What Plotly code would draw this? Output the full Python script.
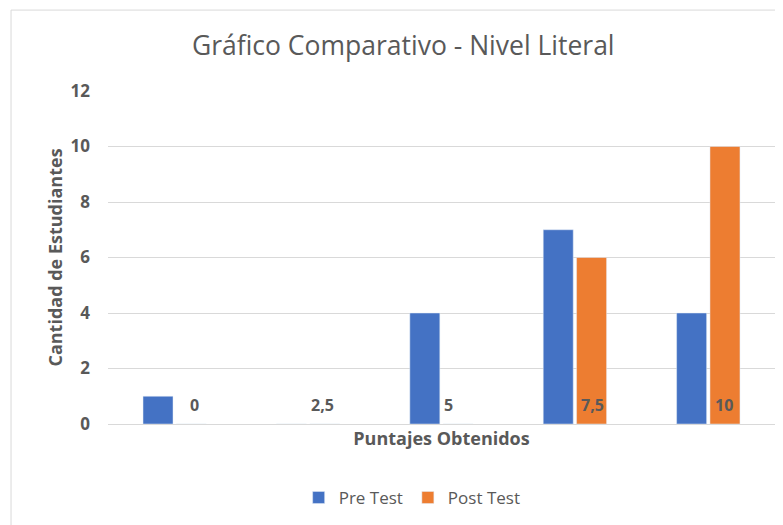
import plotly.graph_objects as go

categories = ["0", "2,5", "5", "7,5", "10"]
pre_test = [1, 0, 4, 7, 4]
post_test = [0, 0, 0, 6, 10]
y_ticks = [0, 2, 4, 6, 8, 10, 12]

FONT = "Open Sans"
GRAY = "#595959"
# horizontal pixel offsets of the category labels (presentation only)
label_xshift = [20, 14, 7, 18, 16]

fig = go.Figure()
fig.add_trace(go.Bar(name="Pre Test", x=categories, y=pre_test, marker_color="#4472C4"))
fig.add_trace(go.Bar(name="Post Test", x=categories, y=post_test, marker_color="#ED7D31"))

for i, c in enumerate(categories):
    fig.add_annotation(x=i, y=0.7, text="<b>%s</b>" % c, showarrow=False,
                       xshift=label_xshift[i], font=dict(family=FONT, size=16, color=GRAY))

fig.add_shape(type="rect", xref="paper", yref="paper", x0=-0.1454, x1=1.02,
              y0=-0.32, y1=1.243, line=dict(color="#d9d9d9", width=1), layer="below")

fig.update_layout(
    width=775, height=517,
    margin=dict(l=100, r=8, t=83, b=101, autoexpand=False),
    paper_bgcolor="white", plot_bgcolor="white",
    barmode="group", bargap=0.5, bargroupgap=0.1,
    title=dict(text="Gráfico Comparativo - Nivel Literal", x=0.51, xanchor="center",
               y=0.9265, yanchor="middle",
               font=dict(family=FONT, size=26.5, color=GRAY)),
    font=dict(family=FONT, color=GRAY),
    legend=dict(orientation="h", x=0.456, xanchor="center", y=-0.222, yanchor="middle",
                font=dict(family=FONT, size=17, color=GRAY), traceorder="normal",
                itemwidth=30),
    showlegend=True,
)
fig.update_xaxes(type="category", range=[-0.5, 4.5], showticklabels=False, showgrid=False,
                 showline=True, linecolor="#d9d9d9", automargin=False,
                 title=dict(text="Puntajes Obtenidos", standoff=8,
                            font=dict(family=FONT, size=18, color=GRAY, weight="bold")))
fig.update_yaxes(range=[0, 12], tickvals=y_ticks, showgrid=True, gridcolor="#d9d9d9",
                 zeroline=False, showline=False, ticks="", ticklabelstandoff=17,
                 automargin=False,
                 tickfont=dict(family=FONT, size=17, color=GRAY, weight="bold"),
                 title=dict(text="Cantidad de Estudiantes", standoff=3,
                            font=dict(family=FONT, size=18, color=GRAY, weight="bold")))

fig.write_html("out.html")
